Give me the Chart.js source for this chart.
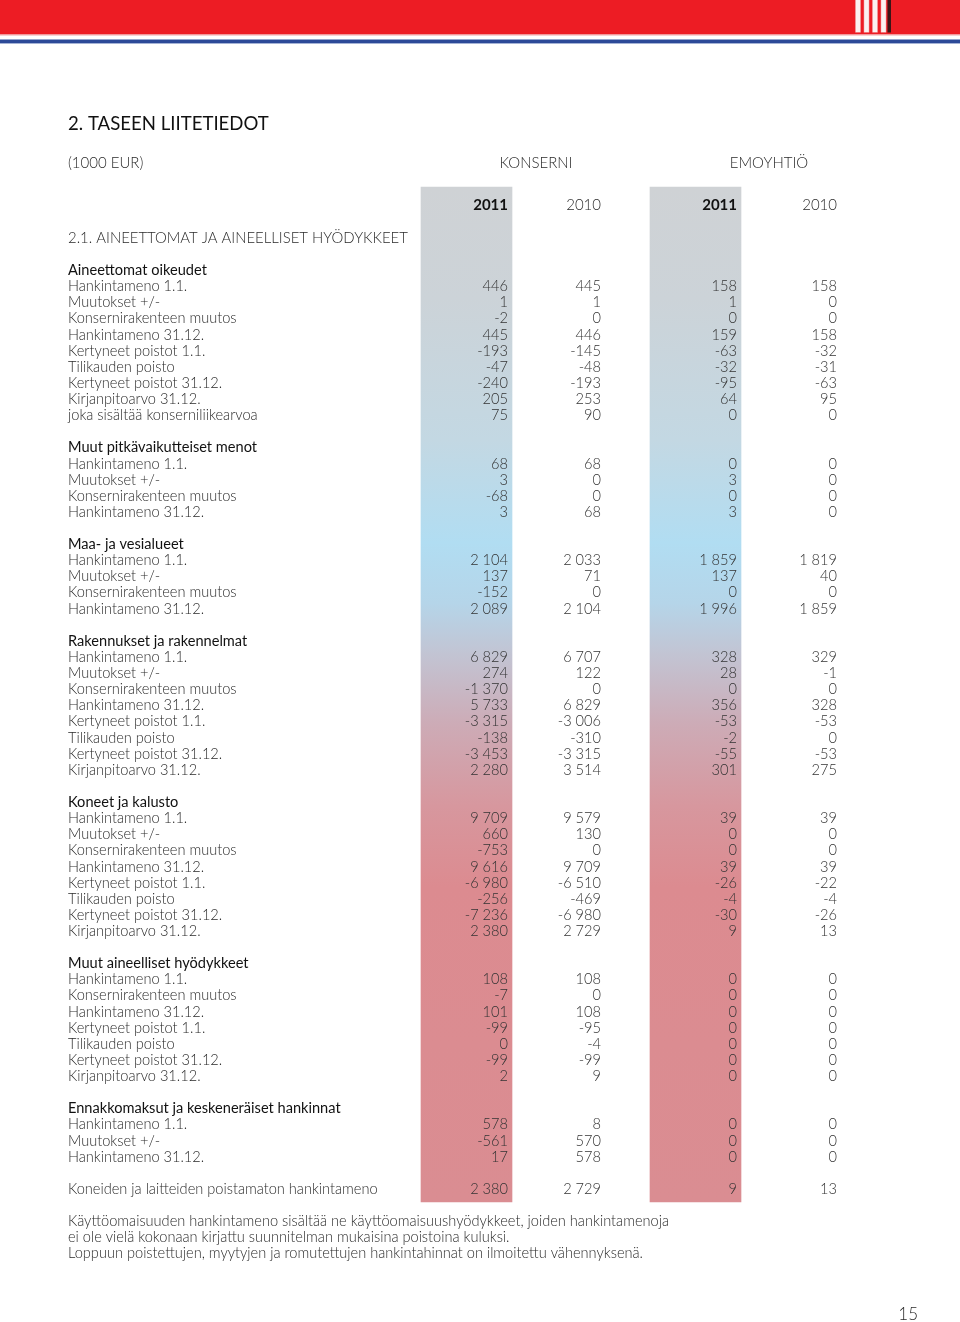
<!DOCTYPE html>
<html><head><meta charset="utf-8">
<script src="https://cdn.jsdelivr.net/npm/chart.js@4"></script>
<style>html,body{margin:0;padding:0;background:#fff}#wrap{width:960px;height:1322px;position:relative}</style>
</head><body><div id="wrap"><canvas id="c" width="960" height="1322"></canvas></div>
<script>
// ---------- DATA ----------
const pageTitle = '2. TASEEN LIITETIEDOT';
const unitLabel = '(1000 EUR)';
const groupNames = ['KONSERNI', 'EMOYHTIÖ'];
const columnYears = ['2011', '2010', '2011', '2010'];
const mainHeading = '2.1. AINEETTOMAT JA AINEELLISET HYÖDYKKEET';
const sectionTitles = [
  'Aineettomat oikeudet',
  'Muut pitkävaikutteiset menot',
  'Maa- ja vesialueet',
  'Rakennukset ja rakennelmat',
  'Koneet ja kalusto',
  'Muut aineelliset hyödykkeet',
  'Ennakkomaksut ja keskeneräiset hankinnat'
];
const s1Labels = ['Hankintameno 1.1.', 'Muutokset +/-', 'Konsernirakenteen muutos', 'Hankintameno 31.12.', 'Kertyneet poistot 1.1.', 'Tilikauden poisto', 'Kertyneet poistot 31.12.', 'Kirjanpitoarvo 31.12.', 'joka sisältää konserniliikearvoa'];
const s1Values = [[446, 445, 158, 158], [1, 1, 1, 0], [-2, 0, 0, 0], [445, 446, 159, 158], [-193, -145, -63, -32], [-47, -48, -32, -31], [-240, -193, -95, -63], [205, 253, 64, 95], [75, 90, 0, 0]];
const s2Labels = ['Hankintameno 1.1.', 'Muutokset +/-', 'Konsernirakenteen muutos', 'Hankintameno 31.12.'];
const s2Values = [[68, 68, 0, 0], [3, 0, 3, 0], [-68, 0, 0, 0], [3, 68, 3, 0]];
const s3Labels = ['Hankintameno 1.1.', 'Muutokset +/-', 'Konsernirakenteen muutos', 'Hankintameno 31.12.'];
const s3Values = [[2104, 2033, 1859, 1819], [137, 71, 137, 40], [-152, 0, 0, 0], [2089, 2104, 1996, 1859]];
const s4Labels = ['Hankintameno 1.1.', 'Muutokset +/-', 'Konsernirakenteen muutos', 'Hankintameno 31.12.', 'Kertyneet poistot 1.1.', 'Tilikauden poisto', 'Kertyneet poistot 31.12.', 'Kirjanpitoarvo 31.12.'];
const s4Values = [[6829, 6707, 328, 329], [274, 122, 28, -1], [-1370, 0, 0, 0], [5733, 6829, 356, 328], [-3315, -3006, -53, -53], [-138, -310, -2, 0], [-3453, -3315, -55, -53], [2280, 3514, 301, 275]];
const s5Labels = ['Hankintameno 1.1.', 'Muutokset +/-', 'Konsernirakenteen muutos', 'Hankintameno 31.12.', 'Kertyneet poistot 1.1.', 'Tilikauden poisto', 'Kertyneet poistot 31.12.', 'Kirjanpitoarvo 31.12.'];
const s5Values = [[9709, 9579, 39, 39], [660, 130, 0, 0], [-753, 0, 0, 0], [9616, 9709, 39, 39], [-6980, -6510, -26, -22], [-256, -469, -4, -4], [-7236, -6980, -30, -26], [2380, 2729, 9, 13]];
const s6Labels = ['Hankintameno 1.1.', 'Konsernirakenteen muutos', 'Hankintameno 31.12.', 'Kertyneet poistot 1.1.', 'Tilikauden poisto', 'Kertyneet poistot 31.12.', 'Kirjanpitoarvo 31.12.'];
const s6Values = [[108, 108, 0, 0], [-7, 0, 0, 0], [101, 108, 0, 0], [-99, -95, 0, 0], [0, -4, 0, 0], [-99, -99, 0, 0], [2, 9, 0, 0]];
const s7Labels = ['Hankintameno 1.1.', 'Muutokset +/-', 'Hankintameno 31.12.'];
const s7Values = [[578, 8, 0, 0], [-561, 570, 0, 0], [17, 578, 0, 0]];
const totalLabel = 'Koneiden ja laitteiden poistamaton hankintameno';
const totalValues = [2380, 2729, 9, 13];
const footnotes = [
  'Käyttöomaisuuden hankintameno sisältää ne käyttöomaisuushyödykkeet, joiden hankintamenoja',
  'ei ole vielä kokonaan kirjattu suunnitelman mukaisina poistoina kuluksi.',
  'Loppuun poistettujen, myytyjen ja romutettujen hankintahinnat on ilmoitettu vähennyksenä.'
];
const pageNumber = '15';

// ---------- LAYOUT (page units) ----------
const L = {
  rowPx: 16.12, row0Px: 237, pageH: 1322, pageW: 960,
  textShift: 0.07,
  labelX: 68,
  valueRight: [508, 601, 737, 837],
  groupCenter: [536, 769],
  bandCenter: [466.5, 695.5], bandWidth: 91,
  bandTopRow: -3.1, bandBottomRow: 59.86
};
const sectionLabels = [s1Labels, s2Labels, s3Labels, s4Labels, s5Labels, s6Labels, s7Labels];
const sectionValues = [s1Values, s2Values, s3Values, s4Values, s5Values, s6Values, s7Values];

// build row list
const rows = [];
rows.push({ r: 0, kind: 'heading', label: mainHeading });
let r = 2;
sectionTitles.forEach((t, i) => {
  rows.push({ r: r++, kind: 'section', label: t });
  sectionLabels[i].forEach((lab, j) => rows.push({ r: r++, kind: 'item', label: lab, values: sectionValues[i][j] }));
  r++;
});
rows.push({ r: r, kind: 'item', label: totalLabel, values: totalValues });
const footRow0 = r + 2;

function fmt(n) {
  const s = Math.abs(n).toString().replace(/\B(?=(\d{3})+(?!\d))/g, ' ');
  return (n < 0 ? '-' : '') + s;
}

const FONT = 'Lato, "Open Sans", sans-serif';
const gradStops = [
  [0, '#cfd2d5'], [0.11, '#ccd3d8'], [0.25, '#c3d8e3'], [0.35, '#b1ddf2'], [0.41, '#b5d5e9'],
  [0.46, '#c2c4d3'], [0.53, '#cdabb6'], [0.61, '#d7979e'], [0.69, '#dc8b90'], [1, '#da8d92']
];

const tablePlugin = {
  id: 'tablePage',
  beforeDraw(chart) {
    const c = chart.ctx;
    c.save();
    c.fillStyle = '#fff'; c.fillRect(0, 0, 960, 1322);
    // banner
    c.fillStyle = '#ed1c24'; c.fillRect(0, 0, 960, 34.5);
    c.fillStyle = '#f0a3a5'; c.fillRect(0, 34.5, 960, 1);
    c.fillStyle = '#2d4a98'; c.fillRect(0, 39.5, 960, 3.5);
    c.fillStyle = '#8fa0cc'; c.fillRect(0, 43, 960, 0.8);
    const stripes = [856, 864.5, 873, 881.5];
    stripes.forEach(sx => {
      c.fillStyle = '#f4c9ca'; c.fillRect(sx - 0.7, 0, 5.4, 32.5);
      c.fillStyle = '#fbf1f1'; c.fillRect(sx, 0, 4, 32);
    });
    c.fillStyle = '#3b1517'; c.fillRect(887.5, 0, 3.5, 32.5);
    c.restore();
  },
  afterDatasetsDraw(chart) {
    const c = chart.ctx, xs = chart.scales.x, ys = chart.scales.y;
    const yp = v => ys.getPixelForValue(v + L.textShift), xp = v => xs.getPixelForValue(v);
    c.save();
    c.textBaseline = 'middle';
    // page title
    c.fillStyle = '#111'; c.textAlign = 'left';
    c.font = '400 18.6px ' + FONT;
    c.fillText(pageTitle, xp(L.labelX), yp(-7.1));
    c.font = '300 15px ' + FONT; c.fillStyle = '#2a2a2a';
    c.fillText(unitLabel, xp(L.labelX), yp(-4.62));
    c.textAlign = 'center';
    groupNames.forEach((g, i) => c.fillText(g, xp(L.groupCenter[i]), yp(-4.62)));
    c.textAlign = 'right';
    columnYears.forEach((yr, i) => {
      c.font = (i % 2 === 0 ? '700 15px ' : '300 15px ') + FONT;
      c.fillStyle = i % 2 === 0 ? '#111' : '#2a2a2a';
      c.fillText(yr, xp(L.valueRight[i]), yp(-2.05));
    });
    rows.forEach(row => {
      const y = yp(row.r);
      c.textAlign = 'left';
      if (row.kind === 'section') { c.font = '400 14.6px ' + FONT; c.fillStyle = '#111'; }
      else if (row.kind === 'heading') { c.font = '300 14.9px ' + FONT; c.fillStyle = '#2a2a2a'; }
      else { c.font = '300 14.6px ' + FONT; c.fillStyle = '#2a2a2a'; }
      c.fillText(row.label, xp(L.labelX), y);
      if (row.values) {
        c.textAlign = 'right'; c.font = '300 14.6px ' + FONT; c.fillStyle = '#333';
        row.values.forEach((v, i) => c.fillText(fmt(v), xp(L.valueRight[i]), y));
      }
    });
    c.textAlign = 'left'; c.font = '300 14.6px ' + FONT; c.fillStyle = '#2a2a2a';
    footnotes.forEach((f, i) => c.fillText(f, xp(L.labelX), yp(footRow0 + i)));
    c.font = '300 17px ' + FONT; c.textAlign = 'right';
    c.fillText(pageNumber, xp(918), yp(66.8));
    c.restore();
  }
};

const bandGradient = (ctx) => {
  const chart = ctx.chart;
  if (!chart.chartArea) return '#cfd2d5';
  const ys = chart.scales.y;
  const g = chart.ctx.createLinearGradient(0, ys.getPixelForValue(L.bandTopRow), 0, ys.getPixelForValue(L.bandBottomRow));
  gradStops.forEach(s => g.addColorStop(s[0], s[1]));
  return g;
};

new Chart(document.getElementById('c'), {
  type: 'bar',
  data: {
    datasets: [{
      label: 'bands',
      data: L.bandCenter.map(cx => ({ x: cx, y: [L.bandTopRow, L.bandBottomRow] })),
      backgroundColor: bandGradient,
      borderWidth: 0,
      barThickness: L.bandWidth,
      grouped: false
    }]
  },
  options: {
    responsive: false, animation: false, events: [],
    layout: { padding: 0 },
    plugins: { legend: { display: false }, tooltip: { enabled: false } },
    scales: {
      x: { type: 'linear', display: false, min: 0, max: L.pageW, offset: false },
      y: { type: 'linear', display: false, reverse: true,
           min: -L.row0Px / L.rowPx, max: (L.pageH - L.row0Px) / L.rowPx }
    }
  },
  plugins: [tablePlugin]
});
</script></body></html>
